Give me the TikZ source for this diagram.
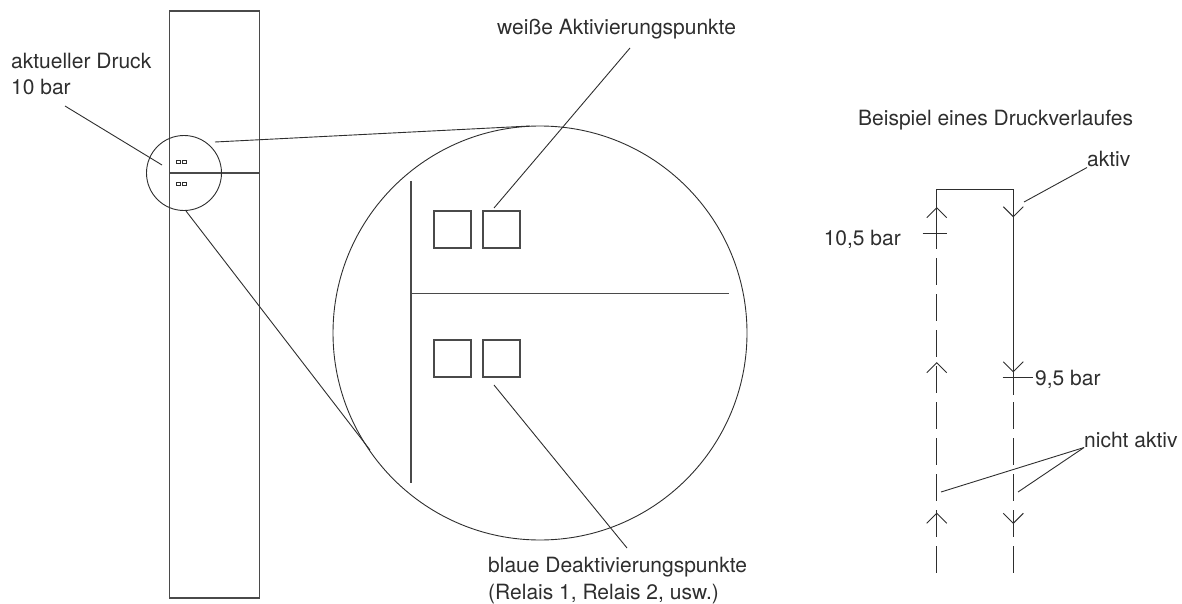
\documentclass[tikz,border=0pt]{standalone}
\usepackage{fontspec}
\setmainfont{TeX Gyre Heros}
\usetikzlibrary{positioning}
\definecolor{strich}{HTML}{2E2E2E}
\definecolor{grau}{HTML}{4A4A4A}
\tikzset{
  duenn/.style={draw=strich,line width=0.9pt},
  rahmen/.style={draw=grau,line width=1.3pt},
  gestr/.style={draw=strich,line width=0.9pt,dash pattern=on 27pt off 9pt},
  beschr/.style={inner sep=0pt,text=strich,font=\fontsize{21}{26.5}\selectfont,
    anchor=base west,align=left},
}
\begin{document}
\begin{tikzpicture}[x=1pt,y=-1pt]
  \useasboundingbox (0,0) rectangle (1182,604);
  % Anzeige mit Lupe
  \draw[rahmen] (169.5,11) rectangle (259.5,598);
  \draw[rahmen] (169.5,173) -- (259.5,173);
  \foreach \y in {160,182.5} \foreach \x in {176.7,182.7}
    \draw[duenn,line width=0.7pt] (\x,\y) rectangle ++(3.3,3.3);
  \node[duenn,circle,minimum size=75pt,inner sep=0pt] (lupe) at (184,173) {};
  \node[duenn,circle,minimum size=414pt,inner sep=0pt] (gross) at (540,333) {};
  \coordinate (lo) at (215,142); \coordinate (go) at (530,126);
  \coordinate (lu) at (186,211); \coordinate (gu) at (370,450);
  \draw[duenn] (lo) -- (go);
  \draw[duenn] (lu) -- (gu);
  % Vergroesserung
  \draw[rahmen] (411,181) -- (411,483);
  \draw[rahmen] (411,293.5) -- (729,293.5);
  \foreach \y in {211,340} \foreach \x in {434,483}
    \draw[rahmen] (\x,\y) rectangle ++(37,37);
  % Beschriftungen links
  \node[beschr] (druck) at (11,95) {aktueller Druck\\10 bar};
  \node[beschr] (weiss) at (497,35) {weiße Aktivierungspunkte};
  \node[beschr] (blau) at (488,599) {blaue Deaktivierungspunkte\\(Relais 1, Relais 2, usw.)};
  \coordinate (d1) at (65,106); \coordinate (d2) at (162,165);
  \coordinate (w1) at (630,48); \coordinate (w2) at (494,208);
  \coordinate (b1) at (627,548); \coordinate (b2) at (494,385);
  \draw[duenn] (d1) -- (d2);
  \draw[duenn] (w1) -- (w2);
  \draw[duenn] (b1) -- (b2);
  % Druckverlauf
  \node[beschr] (beispiel) at (858,126) {Beispiel eines Druckverlaufes};
  \draw[duenn] (936.7,249) -- (936.7,189) -- (1013.3,189) -- (1013.3,395);
  \draw[gestr] (936.7,258) -- (936.7,573);
  \draw[gestr] (1013.3,402) -- (1013.3,573);
  \foreach \y in {207.7,362.7,513.3}
    \draw[duenn] (926.7,\y+10) -- (936.7,\y) -- (946.7,\y+10);
  \foreach \y in {216.7,371.7,523.3}
    \draw[duenn] (1003.3,\y-10) -- (1013.3,\y) -- (1023.3,\y-10);
  \draw[duenn] (922.7,233.3) -- (946.7,233.3);
  \draw[duenn] (1002.7,377.7) -- (1033,377.7);
  \node[beschr,anchor=base east] (oben) at (901,245) {10,5 bar};
  \node[beschr] (unten) at (1035,385) {9,5 bar};
  \node[beschr] (aktiv) at (1087,167) {aktiv};
  \node[beschr] (inaktiv) at (1084,447) {nicht aktiv};
  \coordinate (a1) at (1024,202);
  \coordinate (n1) at (941,492); \coordinate (n2) at (1018,492);
  \draw[duenn] (aktiv.south west) -- (a1);
  \draw[duenn] (inaktiv.south west) -- (n1);
  \draw[duenn] (inaktiv.south west) -- (n2);
\end{tikzpicture}
\end{document}
